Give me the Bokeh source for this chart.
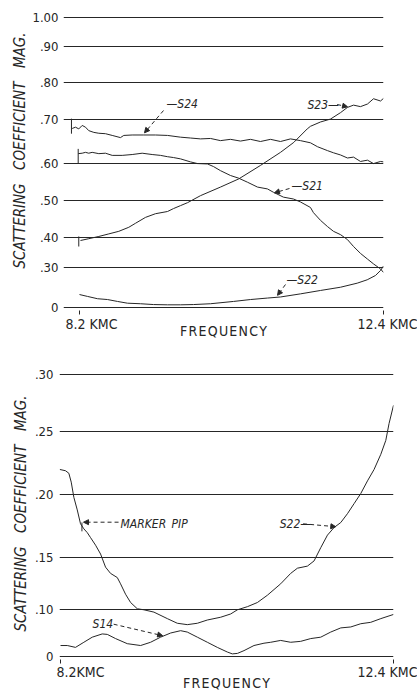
import numpy as np
from bokeh.plotting import figure
from bokeh.layouts import column
from bokeh.models import (FixedTicker, CustomJSTickFormatter, Label, Arrow,
                          NormalHead, Range1d, Title)
from bokeh.embed import file_html
from bokeh.resources import INLINE

# ---------------- data (frequency in KMC, scattering-coefficient magnitude) ----
# upper chart
S24_F = [8.099, 8.145, 8.190, 8.237, 8.283, 8.328, 8.398, 8.467, 8.559, 8.652, 8.766, 8.812, 8.928, 9.088, 9.250, 9.416, 9.595, 9.734, 9.872, 10.010, 10.148, 10.286, 10.424, 10.562, 10.700, 10.839, 10.977, 11.115, 11.253, 11.391, 11.488, 11.626, 11.709, 11.806, 11.902, 11.986, 12.082, 12.179, 12.262, 12.359, 12.400]
S24_M = [0.680, 0.683, 0.679, 0.687, 0.683, 0.675, 0.671, 0.669, 0.668, 0.664, 0.659, 0.664, 0.665, 0.665, 0.665, 0.664, 0.660, 0.658, 0.656, 0.657, 0.652, 0.655, 0.651, 0.655, 0.650, 0.655, 0.650, 0.656, 0.652, 0.647, 0.638, 0.629, 0.624, 0.619, 0.612, 0.614, 0.604, 0.607, 0.599, 0.604, 0.603]

S21_F = [8.182, 8.237, 8.283, 8.328, 8.375, 8.467, 8.559, 8.652, 8.790, 8.928, 9.066, 9.204, 9.319, 9.416, 9.499, 9.595, 9.734, 9.830, 9.968, 10.051, 10.148, 10.286, 10.397, 10.521, 10.659, 10.797, 10.880, 11.018, 11.156, 11.253, 11.391, 11.432, 11.529, 11.626, 11.709, 11.806, 11.902, 11.986, 12.082, 12.179, 12.262, 12.359, 12.400]
S21_M = [0.622, 0.623, 0.625, 0.623, 0.625, 0.622, 0.623, 0.618, 0.618, 0.620, 0.623, 0.620, 0.618, 0.615, 0.613, 0.610, 0.603, 0.599, 0.598, 0.591, 0.580, 0.567, 0.560, 0.549, 0.536, 0.531, 0.522, 0.509, 0.504, 0.496, 0.481, 0.467, 0.446, 0.429, 0.416, 0.407, 0.392, 0.369, 0.346, 0.327, 0.311, 0.287, 0.261]

S23_F = [8.214, 8.328, 8.467, 8.605, 8.743, 8.881, 8.974, 9.112, 9.250, 9.416, 9.499, 9.595, 9.692, 9.872, 10.148, 10.401, 10.700, 10.977, 11.161, 11.346, 11.391, 11.530, 11.668, 11.806, 11.902, 11.986, 12.082, 12.179, 12.262, 12.359, 12.400]
S23_M = [0.389, 0.395, 0.402, 0.409, 0.416, 0.427, 0.438, 0.454, 0.464, 0.470, 0.478, 0.486, 0.494, 0.513, 0.536, 0.558, 0.594, 0.625, 0.648, 0.679, 0.685, 0.695, 0.702, 0.719, 0.733, 0.739, 0.735, 0.742, 0.756, 0.750, 0.757]

S22T_F = [8.200, 8.311, 8.449, 8.587, 8.725, 8.863, 9.043, 9.222, 9.416, 9.595, 9.775, 10.010, 10.328, 10.562, 10.797, 10.977, 11.253, 11.529, 11.806, 12.037, 12.175, 12.290, 12.359, 12.400]
S22T_M = [0.098, 0.084, 0.067, 0.061, 0.047, 0.034, 0.030, 0.024, 0.022, 0.022, 0.024, 0.030, 0.047, 0.061, 0.072, 0.080, 0.103, 0.128, 0.152, 0.182, 0.207, 0.239, 0.276, 0.304]

# marker pips at the start of the upper traces (S24, S21, S23)
TOP_PIP_F = [8.089, 8.182, 8.190]
TOP_PIP_HI = [0.703, 0.633, 0.402]
TOP_PIP_LO = [0.668, 0.598, 0.369]

# lower chart
S22B_F = [8.191, 8.263, 8.305, 8.335, 8.368, 8.411, 8.452, 8.494, 8.537, 8.579, 8.642, 8.705, 8.768, 8.831, 8.916, 8.957, 9.020, 9.084, 9.168, 9.252, 9.378, 9.547, 9.673, 9.799, 9.926, 10.052, 10.220, 10.346, 10.431, 10.557, 10.683, 10.809, 10.977, 11.103, 11.188, 11.314, 11.398, 11.482, 11.567, 11.650, 11.735, 11.819, 11.903, 11.987, 12.072, 12.155, 12.240, 12.303, 12.344, 12.400]
S22B_M = [0.220, 0.219, 0.217, 0.210, 0.198, 0.188, 0.177, 0.173, 0.170, 0.166, 0.160, 0.153, 0.141, 0.135, 0.131, 0.125, 0.115, 0.107, 0.101, 0.100, 0.095, 0.081, 0.071, 0.068, 0.071, 0.078, 0.084, 0.091, 0.100, 0.103, 0.107, 0.114, 0.125, 0.135, 0.140, 0.142, 0.147, 0.158, 0.168, 0.174, 0.178, 0.185, 0.193, 0.201, 0.211, 0.220, 0.232, 0.243, 0.257, 0.273]

S14_F = [8.200, 8.285, 8.389, 8.494, 8.600, 8.726, 8.790, 8.894, 9.042, 9.210, 9.336, 9.462, 9.589, 9.715, 9.799, 9.926, 10.052, 10.178, 10.304, 10.367, 10.431, 10.514, 10.640, 10.766, 10.851, 10.977, 11.103, 11.229, 11.356, 11.482, 11.608, 11.735, 11.861, 11.987, 12.113, 12.240, 12.400]
S14_M = [0.023, 0.023, 0.019, 0.030, 0.041, 0.048, 0.047, 0.038, 0.027, 0.023, 0.030, 0.041, 0.050, 0.055, 0.052, 0.041, 0.030, 0.019, 0.009, 0.005, 0.006, 0.012, 0.023, 0.028, 0.030, 0.034, 0.030, 0.032, 0.038, 0.041, 0.052, 0.061, 0.063, 0.070, 0.073, 0.081, 0.090]

BOT_PIP_F = [8.470]
BOT_PIP_HI = [0.178]
BOT_PIP_LO = [0.171]

# tick labels and the (non-uniform) calibrated chart-paper scale
TOP_TICK_MAG = [0.0, 0.30, 0.40, 0.50, 0.60, 0.70, 0.80, 0.90, 1.00]
TOP_TICK_LABELS = ["0", ".30", ".40", ".50", ".60", ".70", ".80", ".90", "1.00"]
TOP_PAPER = [0.0, 40.6, 70.6, 107.3, 144.6, 188.0, 225.6, 261.6, 290.0]

BOT_TICK_MAG = [0.0, 0.10, 0.15, 0.20, 0.25, 0.30]
BOT_TICK_LABELS = ["0", ".10", ".15", ".20", ".25", ".30"]
BOT_PAPER = [0.0, 46.4, 98.4, 161.4, 224.7, 281.7]

X_TICKS = [8.2, 12.4]
FS = "\u2007"  # figure space, used only to nudge the end labels sideways
X_TICK_LABELS_TOP = [FS * 3 + "8.2 KMC", FS + "12.4 KMC"]
X_TICK_LABELS_BOT = [FS * 5 + "8.2KMC", "12.4 KMC"]
Y_TITLE = "SCATTERING\u2002\u2002COEFFICIENT\u2002\u2002MAG."
X_TITLE = "\u200a".join("FREQUENCY")

# ---------------- styling ------------------------------------------------------
INK = "#262626"
FONT = "DejaVu Sans Condensed"
W = 417


def top_y(m):
    return np.interp(m, TOP_TICK_MAG, TOP_PAPER)


def bot_y(m):
    return np.interp(m, BOT_TICK_MAG, BOT_PAPER)


def make_fig(height, xr, yr, borders, paper, labels, xlabels, ytitle_offset,
             ytitle_standoff, ylabel_standoff, xlabel_standoff, xtitle_standoff):
    l, r, t, b = borders
    p = figure(width=W, height=height, x_range=Range1d(*xr), y_range=Range1d(*yr),
               output_backend="svg", toolbar_location=None, title=None,
               min_border_left=l, min_border_right=r, min_border_top=t,
               min_border_bottom=b, frame_align=False)
    p.outline_line_color = None
    p.background_fill_color = "white"
    p.border_fill_color = "white"
    p.xgrid.visible = False
    yt = FixedTicker(ticks=list(paper))
    p.yaxis.ticker = yt
    p.ygrid.ticker = yt
    p.ygrid.grid_line_color = INK
    p.ygrid.grid_line_width = 1.1
    p.yaxis.formatter = CustomJSTickFormatter(
        args=dict(pos=list(paper), labs=list(labels)),
        code="const i = pos.findIndex(v => Math.abs(v - tick) < 1e-6); return i < 0 ? '' : labs[i];")
    p.yaxis.axis_line_color = None
    p.yaxis.major_tick_line_color = None
    p.yaxis.minor_tick_line_color = None
    p.yaxis.major_tick_out = 0
    p.yaxis.major_tick_in = 0
    p.yaxis.major_label_standoff = ylabel_standoff
    p.yaxis.major_label_text_font = FONT
    p.yaxis.major_label_text_font_size = "13px"
    p.yaxis.major_label_text_color = INK
    p.add_layout(Title(text=Y_TITLE, align="right", offset=ytitle_offset,
                       standoff=ytitle_standoff, text_font=FONT,
                       text_font_size="15px", text_font_style="italic",
                       text_color=INK), "left")

    p.xaxis.ticker = FixedTicker(ticks=X_TICKS)
    p.xaxis.formatter = CustomJSTickFormatter(args=dict(labs=list(xlabels)),
                                              code="return labs[index];")
    p.xaxis.axis_line_color = None
    p.xaxis.minor_tick_line_color = None
    p.xaxis.major_tick_line_color = INK
    p.xaxis.major_tick_in = 0
    p.xaxis.major_tick_out = 4
    p.xaxis.major_label_standoff = xlabel_standoff
    p.xaxis.major_label_text_font = FONT
    p.xaxis.major_label_text_font_size = "14px"
    p.xaxis.major_label_text_color = INK
    p.xaxis.axis_label = X_TITLE
    p.xaxis.axis_label_text_font = FONT
    p.xaxis.axis_label_text_font_size = "14px"
    p.xaxis.axis_label_text_font_style = "normal"
    p.xaxis.axis_label_text_color = INK
    p.xaxis.axis_label_standoff = xtitle_standoff
    return p


def text(p, x, y, s, size="12px", style="italic", align="left"):
    p.add_layout(Label(x=x, y=y, text=s, text_font=FONT, text_font_size=size,
                       text_font_style=style, text_color=INK, text_align=align,
                       text_baseline="middle"))


def leader(p, x0, y0, x1, y1):
    p.add_layout(Arrow(end=NormalHead(size=5, fill_color=INK, line_color=INK, line_width=1),
                       x_start=x0, y_start=y0, x_end=x1, y_end=y1,
                       line_color=INK, line_width=1, line_dash="4 3"))


# ---------------- upper chart --------------------------------------------------
p1 = make_fig(344, (7.979, 12.4), (-2.7, 294.3), (63, 34, 13, 34), TOP_PAPER,
              TOP_TICK_LABELS, X_TICK_LABELS_TOP, 19, 2, 5, 1, -12)
for fx, mx in [(S24_F, S24_M), (S21_F, S21_M), (S23_F, S23_M), (S22T_F, S22T_M)]:
    p1.line(fx, top_y(mx), line_color=INK, line_width=1)
p1.segment(x0=TOP_PIP_F, y0=top_y(TOP_PIP_HI), x1=TOP_PIP_F, y1=top_y(TOP_PIP_LO),
           line_color=INK, line_width=1)

text(p1, 9.402, 204.3, "\u2014S24")
leader(p1, 9.361, 197.3, 9.098, 175.0)
text(p1, 11.35, 203.3, "S23\u2014")
leader(p1, 11.76, 203.3, 11.903, 201.0)
text(p1, 11.129, 122.3, "\u2014S21")
leader(p1, 11.101, 119.3, 10.894, 115.0)
text(p1, 11.06, 28.0, "\u2014S22")
leader(p1, 11.046, 23.3, 10.936, 12.5)

# ---------------- lower chart --------------------------------------------------
p2 = make_fig(351, (8.187, 12.4), (-3.3, 285.7), (59, 24, 26, 36), BOT_PAPER,
              BOT_TICK_LABELS, X_TICK_LABELS_BOT, 25, 4, 6, 0, -8)
for fx, mx in [(S22B_F, S22B_M), (S14_F, S14_M)]:
    p2.line(fx, bot_y(mx), line_color=INK, line_width=1)
p2.segment(x0=BOT_PIP_F, y0=bot_y(BOT_PIP_HI), x1=BOT_PIP_F, y1=bot_y(BOT_PIP_LO),
           line_color=INK, line_width=1)

text(p2, 8.957, 132.7, "MARKER\u2002PIP")
leader(p2, 8.932, 134.0, 8.49, 134.0)
text(p2, 8.604, 32.7, "S14")
leader(p2, 8.87, 32.0, 9.488, 20.5)
text(p2, 10.965, 132.4, "S22\u2014")
leader(p2, 11.26, 132.4, 11.672, 129.5)

layout = column(p1, p2, spacing=0)
open("out.html", "w").write(file_html(layout, INLINE))
